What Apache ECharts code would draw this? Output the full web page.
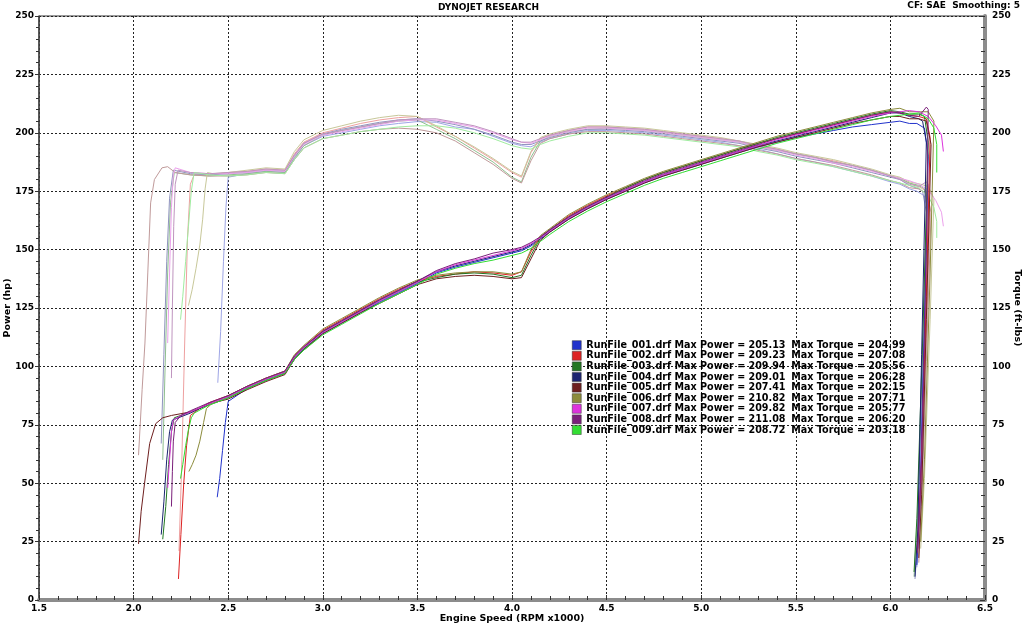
<!DOCTYPE html>
<html><head><meta charset="utf-8">
<script src="https://cdn.jsdelivr.net/npm/echarts@6/dist/echarts.min.js"></script>
<style>html,body{margin:0;padding:0;background:#fff}#c{width:1024px;height:625px}</style>
</head><body><div id="c"></div>
<script>
const FONT = "'DejaVu Sans', Verdana, sans-serif";
const runNames = ['RunFile_001.drf','RunFile_002.drf','RunFile_003.drf','RunFile_004.drf','RunFile_005.drf','RunFile_006.drf','RunFile_007.drf','RunFile_008.drf','RunFile_009.drf'];
const maxPower = [205.13,209.23,209.94,209.01,207.41,210.82,209.82,211.08,208.72];
const maxTorque = [204.99,207.08,205.56,206.28,202.15,207.71,205.77,206.20,203.18];
const powerColors = ['#2233cc','#dd2222','#227722','#1c2470','#6e1f1f','#8c8c3c','#dd33dd','#7a1f7a','#33dd33'];
const torqueColors = ['#9fa6e6','#eea0a0','#8fbf8f','#9094bf','#c09a9a','#c8c89a','#eca0ec','#bf94bf','#a0eca0'];
const xTicks = [1.5,2.0,2.5,3.0,3.5,4.0,4.5,5.0,5.5,6.0,6.5];

// shared rpm grid (x1000) for the body of each run
const rpmGrid = [2.5,2.6,2.7,2.8,2.85,2.9,3.0,3.1,3.2,3.3,3.4,3.5,3.6,3.7,3.8,3.9,4.0,4.05,4.1,4.15,4.2,4.3,4.4,4.5,4.6,4.7,4.8,4.9,5.0,5.1,5.2,5.3,5.4,5.5,5.6,5.7,5.8,5.9,6.0,6.05,6.1];

// power (hp) on rpmGrid
const p001 = [85,90.5,94,97,103,107.5,114,118.5,123,127.5,131.5,135.5,140,142.5,144.5,146.5,148.5,149.5,151.5,154.5,157.5,163,167.5,171.5,175,178.5,181.5,184,186.5,189,191.5,194,196,198,199.5,201,202.5,203.5,204.5,205,204];
const p002 = [87.5,91.5,95,98,104.5,108.5,115.5,120,124.5,129,133,136.5,138.5,139.5,140.5,140,139,140.5,149,155.5,158.5,164.5,169,173,176.5,180,183,185.5,188,190.5,193,195.5,197.5,199.5,201.5,203.5,205.5,207.5,209,208.5,207.5];
const p003 = [86.5,90.5,94,97,103.5,107.5,114.5,119,123.5,128,132,136,138,139.5,140,139.5,138,139,147.5,155,158.5,164,168.5,172.5,176.5,180,183,185.5,188,190.5,193,195.5,198,200,202,204,206,208,209.5,209,208];
const p004 = [87,91,94.5,97.5,104,108,115,119.5,124,128.5,132.5,136.5,140.5,143,145,147,149,150,152,155,158,163.5,168,172,175.5,179,182,184.5,187,189.5,192,194.5,196.5,198.5,200.5,202.5,204.5,206.5,208.5,208.5,207];
const p005 = [86,90,93.5,96.5,103,107,114,118.5,123,127,131,135,137.5,138.5,139,138.5,137.5,138,146,154,157.5,163,167.5,171.5,175,178.5,181.5,184,186.5,189,191.5,194,196,198,200,202,204,205.5,207,207,206];
const p006 = [87.5,91.5,95,98,105,109,116,120.5,125,129.5,133.5,137,139,140,140.5,140.5,139.5,140.5,150,156,159,165,169.5,173.5,177,180.5,183.5,186,188.5,191,193.5,196,198.5,200.5,202.5,204.5,206.5,208.5,210,210.5,209];
const p007 = [87,91,94.5,97.5,104,108,114.5,119,123.5,128,132,136,140.5,143.5,145.5,147.5,149.5,150.5,152.5,155,158,163.5,168,172,175.5,179,182,184.5,187,189.5,192,194.5,197,199,201,203,205,207,208.5,209,209.5];
const p008 = [87.5,91.5,95,98,104.5,108.5,115,119.5,124,128.5,132.5,136.5,141,144,146,148.5,150,151,153,155.5,158.5,164,168.5,172.5,176,179.5,182.5,185,187.5,190,192.5,195,197.5,199.5,201.5,203.5,205.5,207.5,209,208.5,207.5];
const p009 = [86.5,90.5,94,97,103,107,113.5,118,122.5,127,131,135,139.5,142,144,145.5,147.5,148.5,150.5,153.5,156.5,162,166.5,170.5,174,177.5,180.5,183,185.5,188,190.5,193,195.5,197.5,199.5,201.5,203.5,205.5,207,207.5,208];

// torque (ft-lbs) on rpmGrid
const t001 = [181,182.5,183.5,183,189,194.5,198.5,200,201.5,203,204,204.8,204.5,202.5,201.5,198.5,195.5,194.5,194,196,197.5,199.5,201,201,200.5,200,199,198,197,196,194.5,193,191,189,187.5,185.5,183.5,181.5,179,178,176];
const t002 = [183,183.5,184.5,184,191,196,200,202,204,205.5,206.5,207,202.5,198.5,193.5,188.5,183,181,191.5,197.5,199,201,202.5,202.5,202,201.5,200.5,199.5,198.5,197.5,196.5,194.5,193,191,189.5,188,186,184,181.5,180.5,178.5];
const t003 = [182,182.5,183.5,183,189.5,194.5,199,201,202.5,204,205,205.5,201.5,197.5,192.5,187.5,181,179,189.5,196.5,198.5,200.5,201.5,202,201.5,201,200,199,198,197,196,194,192.5,191,189.5,187.5,186,184,181.5,180.5,178.5];
const t004 = [182.5,183,184,183.5,190,195.5,199.5,201.5,203,204.5,205.5,206,205,203.5,201.5,199,196,195,195,196.5,198,200,201.5,201.5,201,200.5,199.5,198.5,197.5,196.5,195.5,193.5,192,190,188.5,187,185,183,181,180,177.5];
const t005 = [181.5,182,183,182.5,188.5,193.5,197.5,199,200.5,201.5,202,201.5,200,196.5,191.5,186.5,180.5,178.5,188,195.5,197.5,199.5,200.5,200.5,200,199.5,198.5,197.5,196.5,195.5,194.5,192.5,191,189,187.5,186,184,182,179.5,178.5,176.5];
const t006 = [183,184,185,184.5,192,197,201,203,205,206.5,207.5,207,203,198.5,194,189,183.5,181.5,192,198,199.5,201.5,203,203,202.5,202,201,200,199,198,196.5,195,193.5,191.5,190,188.5,186.5,184.5,182,181,179];
const t007 = [182.5,183,184,183.5,190,195,199,200.5,202,203.5,205,205.5,205.5,204,202.5,200,197,196,195.5,197,198.5,200.5,202,202,201.5,201,200,199,198,197,196,194,192.5,190.5,189,187,185.5,183.5,181.5,180.5,179.5];
const t008 = [183,183.5,184.5,184,190.5,195.5,199.5,201,202.5,204,205.5,206,206,204.5,203,200.5,197.5,196,196,197.5,199,201,202.5,202.5,202,201.5,200.5,199.5,198.5,197.5,196.5,194.5,193,191,189.5,187.5,186,184,181.5,180,178];
const t009 = [181.5,182,183,182.5,188.5,193.5,197.5,199,200.5,201.5,202.5,203,203,202,200,197.5,194.5,193.5,193,195,196.5,198.5,200,200,199.5,199,198,197,196,195,194,192,190.5,188.5,187,185.5,183.5,181.5,179.5,178.5,177.5];

// start of each pull [rpm, value]
const pStart = [
  [[2.442,44],[2.455,52],[2.47,64],[2.485,76],[2.495,82]],
  [[2.237,9],[2.25,28],[2.265,50],[2.28,66],[2.3,79],[2.35,82],[2.4,84.5],[2.45,86]],
  [[2.154,26],[2.17,40],[2.185,58],[2.2,72],[2.215,78],[2.3,80.5],[2.4,83.5]],
  [[2.146,28],[2.16,42],[2.175,60],[2.19,72],[2.205,77],[2.3,80],[2.4,84]],
  [[2.026,24],[2.04,38],[2.058,50],[2.085,67],[2.117,75.5],[2.154,78],[2.2,79],[2.3,80.5],[2.4,84]],
  [[2.292,55],[2.31,58],[2.33,62],[2.35,68],[2.37,76],[2.385,82],[2.42,84.5]],
  [[2.18,48],[2.19,60],[2.2,72],[2.21,77],[2.25,79],[2.3,80.5],[2.4,84]],
  [[2.2,40],[2.205,55],[2.21,68],[2.22,76],[2.25,79],[2.3,81],[2.4,84.5]],
  [[2.248,52],[2.26,58],[2.275,66],[2.29,73],[2.305,78],[2.32,80],[2.4,83.5]]
];
const tStart = [
  [[2.445,93],[2.46,115],[2.475,145],[2.488,168],[2.497,178]],
  [[2.24,21],[2.255,60],[2.27,110],[2.285,155],[2.3,178],[2.32,182],[2.4,182]],
  [[2.154,60],[2.165,95],[2.18,140],[2.195,170],[2.215,183],[2.3,182],[2.4,181.5]],
  [[2.146,67],[2.16,105],[2.175,145],[2.19,172],[2.21,184],[2.3,182.5],[2.4,182]],
  [[2.026,62],[2.045,90],[2.06,110],[2.075,140],[2.09,170],[2.11,180],[2.15,185],[2.18,185.5],[2.22,183],[2.3,182],[2.4,181.5]],
  [[2.29,126],[2.31,133],[2.33,142],[2.35,152],[2.365,163],[2.378,176],[2.39,183],[2.42,182.5]],
  [[2.18,110],[2.19,140],[2.2,168],[2.21,182],[2.22,185],[2.3,183],[2.4,182.5]],
  [[2.2,95],[2.205,125],[2.212,160],[2.22,178],[2.235,184],[2.3,183],[2.4,182.5]],
  [[2.248,120],[2.26,130],[2.275,145],[2.29,160],[2.305,175],[2.32,183],[2.4,182]]
];
// end of each pull [rpm, value]
const pEnd = [
  [[6.14,204],[6.18,202],[6.2,190],[6.18,120],[6.155,40],[6.14,15]],
  [[6.15,207],[6.19,206],[6.21,198],[6.19,130],[6.16,50],[6.14,20]],
  [[6.15,208],[6.18,207],[6.2,196],[6.17,110],[6.14,35],[6.125,12]],
  [[6.15,206],[6.17,205],[6.19,196],[6.165,105],[6.145,30],[6.13,10]],
  [[6.15,206],[6.19,205],[6.215,195],[6.19,120],[6.165,45],[6.15,18]],
  [[6.16,209],[6.2,209],[6.23,205],[6.21,140],[6.18,60],[6.16,25]],
  [[6.15,209],[6.2,207],[6.24,203],[6.27,199],[6.28,192]],
  [[6.15,207],[6.19,211],[6.2,210],[6.19,150],[6.165,60],[6.145,22]],
  [[6.15,208.5],[6.2,206],[6.23,202],[6.245,195],[6.245,183]]
];
const tEnd = [
  [[6.14,175],[6.18,173],[6.2,165],[6.18,110],[6.155,38],[6.14,14]],
  [[6.15,177],[6.19,175],[6.21,168],[6.19,112],[6.16,44],[6.14,18]],
  [[6.15,177.5],[6.18,176],[6.2,166],[6.17,95],[6.14,30],[6.125,10]],
  [[6.15,176],[6.17,175],[6.19,166],[6.165,90],[6.145,26],[6.13,9]],
  [[6.15,176],[6.19,174],[6.215,166],[6.19,102],[6.165,40],[6.15,16]],
  [[6.16,178],[6.2,177],[6.23,172],[6.21,120],[6.18,52],[6.16,22]],
  [[6.15,178],[6.2,175.5],[6.24,171],[6.27,166],[6.28,160]],
  [[6.15,177],[6.19,179],[6.2,178],[6.19,128],[6.165,52],[6.145,19]],
  [[6.15,176.5],[6.2,173],[6.23,168],[6.245,162],[6.245,155]]
];

const powerBody = [p001,p002,p003,p004,p005,p006,p007,p008,p009];
const torqueBody = [t001,t002,t003,t004,t005,t006,t007,t008,t009];

function build(start, body, end) {
  return start.concat(rpmGrid.map((x, i) => [x, body[i]])).concat(end);
}

const series = [];
runNames.forEach((n, i) => {
  series.push({
    name: n + ' Torque', type: 'line', yAxisIndex: 1, showSymbol: false, symbol: 'none',
    data: build(tStart[i], torqueBody[i], tEnd[i]),
    lineStyle: { width: 1, color: torqueColors[i] }, itemStyle: { color: torqueColors[i] },
    z: 2
  });
});
runNames.forEach((n, i) => {
  series.push({
    name: n, type: 'line', yAxisIndex: 0, showSymbol: false, symbol: 'none',
    data: build(pStart[i], powerBody[i], pEnd[i]),
    lineStyle: { width: 1, color: powerColors[i] }, itemStyle: { color: powerColors[i] },
    z: 3
  });
});

const labelStyle = { fontFamily: FONT, fontWeight: 'bold', fontSize: 9, color: '#000' };
const nameStyle = { fontFamily: FONT, fontWeight: 'bold', fontSize: 9.5, color: '#000' };
const chart = echarts.init(document.getElementById('c'), null, { renderer: 'canvas' });
chart.setOption({
  animation: false,
  backgroundColor: '#fff',
  graphic: [
    { type: 'text', left: 438, top: 3, style: { text: 'DYNOJET RESEARCH', font: "bold 9px 'DejaVu Sans'", fill: '#000' } },
    { type: 'text', right: 4, top: 1, style: { text: 'CF: SAE  Smoothing: 5', font: "bold 9px 'DejaVu Sans'", fill: '#000' } }
  ],
  grid: { left: 39, right: 39, top: 16, bottom: 25, containLabel: false, outerBoundsMode: 'none', show: true, borderColor: '#333', borderWidth: 1 },
  legend: {
    show: true, orient: 'vertical', left: 567, top: 335, selectedMode: false,
    itemWidth: 9, itemHeight: 9, itemGap: 0.2, icon: 'rect', itemTextGap: 3,
    data: runNames.map((n, i) => ({ name: n, itemStyle: { color: powerColors[i], borderColor: '#333', borderWidth: 0.5 } })),
    formatter: name => {
      const i = runNames.indexOf(name);
      return '{a|' + name + ' Max Power = ' + maxPower[i].toFixed(2) + '}{b|Max Torque = ' + maxTorque[i].toFixed(2) + '}';
    },
    textStyle: {
      fontFamily: FONT, fontWeight: 'bold', fontSize: 9.6, color: '#000', lineHeight: 10.4,
      rich: {
        a: { width: 205, fontFamily: FONT, fontWeight: 'bold', fontSize: 9.6, color: '#000', lineHeight: 10.4 },
        b: { fontFamily: FONT, fontWeight: 'bold', fontSize: 9.6, color: '#000', lineHeight: 10.4 }
      }
    }
  },
  xAxis: {
    type: 'value', min: 1.5, max: 6.5, interval: 0.5,
    name: 'Engine Speed (RPM x1000)', nameLocation: 'middle', nameGap: 14, nameMoveOverlap: false,
    nameTextStyle: nameStyle,
    axisLine: { show: true, onZero: false, lineStyle: { color: '#8c8c8c', width: 4 } },
    axisTick: { show: true, inside: true, length: 5, lineStyle: { color: '#333' } },
    minorTick: { show: true, splitNumber: 5, length: 4, lineStyle: { color: '#333' } },
    axisLabel: Object.assign({ margin: 4, formatter: v => xTicks.indexOf(v) >= 0 ? v.toFixed(1) : '' }, labelStyle),
    splitLine: { show: true, lineStyle: { color: '#222', type: [2, 2], width: 1 } }
  },
  yAxis: [
    {
      type: 'value', min: 0, max: 250, interval: 25, position: 'left',
      name: 'Power (hp)', nameLocation: 'middle', nameGap: 26, nameRotate: 90, nameMoveOverlap: false,
      nameTextStyle: nameStyle,
      axisLine: { show: true, lineStyle: { color: '#444', width: 1.5 } },
      axisTick: { show: true, inside: false, length: 4, lineStyle: { color: '#333' } },
      minorTick: { show: true, splitNumber: 5, length: 3, lineStyle: { color: '#333' } },
      axisLabel: Object.assign({ margin: 5 }, labelStyle),
      splitLine: { show: true, lineStyle: { color: '#222', type: [2, 2], width: 1 } }
    },
    {
      type: 'value', min: 0, max: 250, interval: 25, position: 'right',
      name: 'Torque (ft-lbs)', nameLocation: 'middle', nameGap: 27, nameRotate: -90, nameMoveOverlap: false,
      nameTextStyle: nameStyle,
      axisLine: { show: true, lineStyle: { color: '#8c8c8c', width: 4 } },
      axisTick: { show: true, inside: true, length: 5, lineStyle: { color: '#333' } },
      minorTick: { show: true, splitNumber: 5, length: 4, lineStyle: { color: '#333' } },
      axisLabel: Object.assign({ margin: 7 }, labelStyle),
      splitLine: { show: false }
    }
  ],
  series: series
});
</script>
</body></html>
